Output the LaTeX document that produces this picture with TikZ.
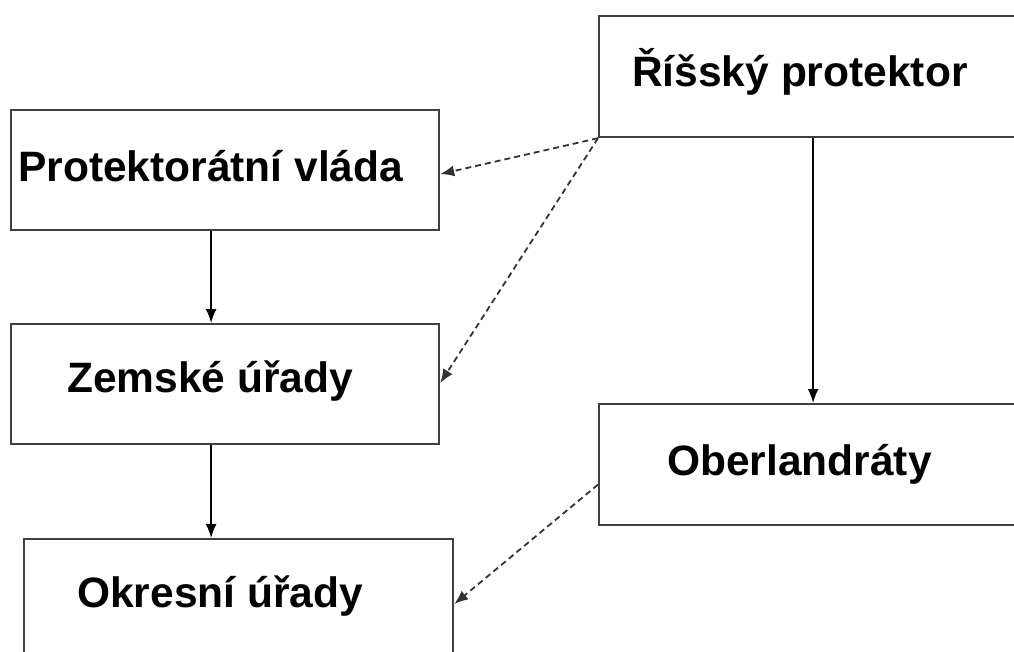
\documentclass[tikz,border=0pt]{standalone}
\usepackage{fontspec}
\setmainfont{Liberation Sans}
\usetikzlibrary{arrows.meta}

\begin{document}
\begin{tikzpicture}[x=1pt, y=-1pt,
    orgbox/.style={draw=black!75, line width=2.2pt, anchor=north west, inner sep=0pt, minimum width=428pt, minimum height=121pt},
    orgtext/.style={anchor=base west, inner sep=0pt, font=\fontsize{42.5}{48}\selectfont\bfseries},
    solidarrow/.style={-{Latex[length=14pt, width=11pt]}, line width=1.8pt},
    dasharrow/.style={-{Latex[length=14pt, width=11pt]}, line width=1.8pt, draw=black!80, dash pattern=on 6pt off 4pt}]
    \useasboundingbox (0, 0) rectangle (1014, 652);

    \node[orgbox] (rp) at (598, 15) {};
    \node[orgbox, minimum height=120pt] (pv) at (10, 109) {};
    \node[orgbox, minimum height=120pt] (zu) at (10, 323) {};
    \node[orgbox, minimum width=429pt, minimum height=150pt] (ou) at (23, 538) {};
    \node[orgbox] (ob) at (598, 403) {};

    \node[orgtext] (rpt) at (632, 87) {Říšský protektor};
    \node[orgtext] (pvt) at (18, 182) {Protektorátní vláda};
    \node[orgtext] (zut) at (67, 392) {Zemské úřady};
    \node[orgtext] (out) at (77, 607) {Okresní úřady};
    \node[orgtext] (obt) at (667, 475) {Oberlandráty};

    \draw[solidarrow] ([xshift=-14pt]pv.south) -- ([xshift=-14pt]zu.north);
    \draw[solidarrow] ([xshift=-14pt]zu.south) -- ([xshift=-27.5pt]ou.north);
    \draw[solidarrow] (rp.south) -- (ob.north);

    \draw[dasharrow] (rp.south west) -- ([yshift=-4pt]pv.east);
    \draw[dasharrow] (rp.south west) -- ([yshift=1pt]zu.east);
    \draw[dasharrow] ([yshift=-20pt]ob.west) -- ([yshift=10pt]ou.east);
\end{tikzpicture}
\end{document}
